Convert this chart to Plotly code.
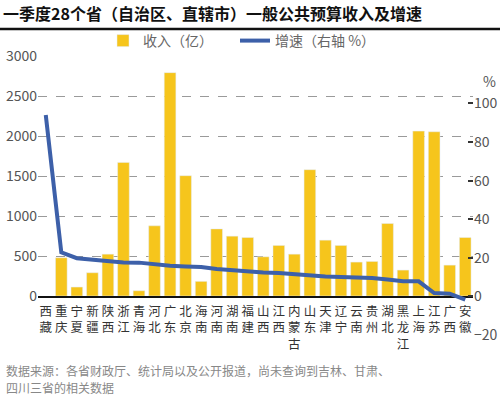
import plotly.graph_objects as go

provinces = ["西藏", "重庆", "宁夏", "新疆", "陕西", "浙江", "青海", "河北", "广东", "北京",
             "海南", "河南", "湖南", "福建", "山西", "江西", "内蒙古", "山东", "天津", "辽宁",
             "云南", "贵州", "湖北", "黑龙江", "上海", "江苏", "广西", "安徽"]
revenue = [None, 478, 112, 291, 523, 1670, 66, 877, 2792, 1504,
           183, 839, 748, 731, 490, 632, 523, 1579, 698, 632,
           424, 432, 906, 324, 2061, 2053, 386, 731]
growth = [94.0, 22.8, 19.8, 19.0, 18.3, 17.6, 17.5, 16.6, 15.9, 15.5,
          15.2, 14.2, 13.5, 13.1, 12.4, 12.1, 11.4, 10.7, 10.3, 10.0,
          9.8, 9.5, 8.7, 7.9, 7.8, 1.7, 1.4, -1.7]
left_ticks = [0, 500, 1000, 1500, 2000, 2500, 3000]
right_ticks = [-20, 0, 20, 40, 60, 80, 100]

W, H = 500, 398
L, R, T, B = 38, 27, 56, 63
pw = W - L - R
ph = H - T - B

def px_x(x):
    return (x - L) / pw

def px_y(y):
    return (H - B - y) / ph

FONT = "Noto Sans CJK SC"
YELLOW = "#F6C51C"
BLUE = "#3D60A9"

fig = go.Figure()
fig.add_trace(go.Bar(x=provinces, y=revenue, name="收入（亿）", marker_color=YELLOW,
                     xaxis="x", yaxis="y"))
fig.add_trace(go.Scatter(x=provinces, y=growth, name="增速（右轴 %）", mode="lines",
                         line=dict(color=BLUE, width=4), xaxis="x2", yaxis="y2"))

fig.update_layout(
    width=W, height=H,
    margin=dict(l=L, r=R, t=T, b=B, autoexpand=False),
    paper_bgcolor="white", plot_bgcolor="rgba(0,0,0,0)",
    font=dict(family=FONT, color="#555"),
    bargap=0.25,
    showlegend=True,
    legend=dict(orientation="h", xref="container", yref="container",
                x=103 / W, xanchor="left", y=1 - 41 / H, yanchor="middle",
                font=dict(size=14, color="#666"), bgcolor="rgba(0,0,0,0)",
                entrywidth=87, entrywidthmode="pixels", tracegroupgap=0),
    title=dict(text="<b>一季度28个省（自治区、直辖市）一般公共预算收入及增速</b>",
               xref="container", yref="container", x=0.006, xanchor="left",
               y=1 - 14 / H, yanchor="middle",
               font=dict(size=16, color="#111", family=FONT)),
    xaxis=dict(type="category", domain=[0, 1], anchor="y", range=[-0.5, 27.5],
               tickmode="array", tickvals=provinces,
               ticktext=["<br>".join(p) for p in provinces],
               showline=True, linecolor="#111", linewidth=2, ticks="",
               ticklabelstandoff=3,
               showgrid=False, zeroline=False,
               tickfont=dict(size=12.5, color="#333")),
    xaxis2=dict(type="category", domain=[0, 1], anchor="y2", range=[-0.5, 27.5],
                visible=False),
    yaxis=dict(domain=[px_y(296), 1], anchor="x", range=[0, 3000],
               tickmode="array", tickvals=left_ticks,
               showgrid=True, gridcolor="#9a9a9a", griddash="dash", gridwidth=1,
               zeroline=False, showline=False, ticks="",
               tickfont=dict(size=14, color="#555")),
    yaxis2=dict(domain=[0, 1], anchor="x2", side="right",
                range=[-20, (H - B - T) / 1.93 - 20],
                tickmode="array", tickvals=right_ticks,
                ticks="inside", ticklen=5, tickwidth=2, tickcolor="#333",
                showgrid=False, zeroline=False, showline=False,
                tickfont=dict(size=14, color="#555")),
    shapes=[dict(type="line", xref="paper", yref="paper",
                 x0=px_x(0), x1=px_x(W), y0=px_y(29), y1=px_y(29),
                 line=dict(color="#111", width=2.5))],
    annotations=[
        dict(text="%", xref="paper", yref="paper", x=px_x(490), y=px_y(82),
             xanchor="center", yanchor="bottom", yshift=-11,
             showarrow=False, font=dict(size=14, color="#555")),
        dict(text="数据来源：各省财政厅、统计局以及公开报道，尚未查询到吉林、甘肃、",
             xref="paper", yref="paper", x=px_x(4), y=px_y(370), xanchor="left",
             yanchor="middle", showarrow=False, font=dict(size=12, color="#888")),
        dict(text="四川三省的相关数据",
             xref="paper", yref="paper", x=px_x(4), y=px_y(387), xanchor="left",
             yanchor="middle", showarrow=False, font=dict(size=12, color="#888")),
    ],
)

fig.write_html("out.html", config={"displayModeBar": False},
               post_script="document.body.style.margin='0px';document.body.style.padding='0px';")
